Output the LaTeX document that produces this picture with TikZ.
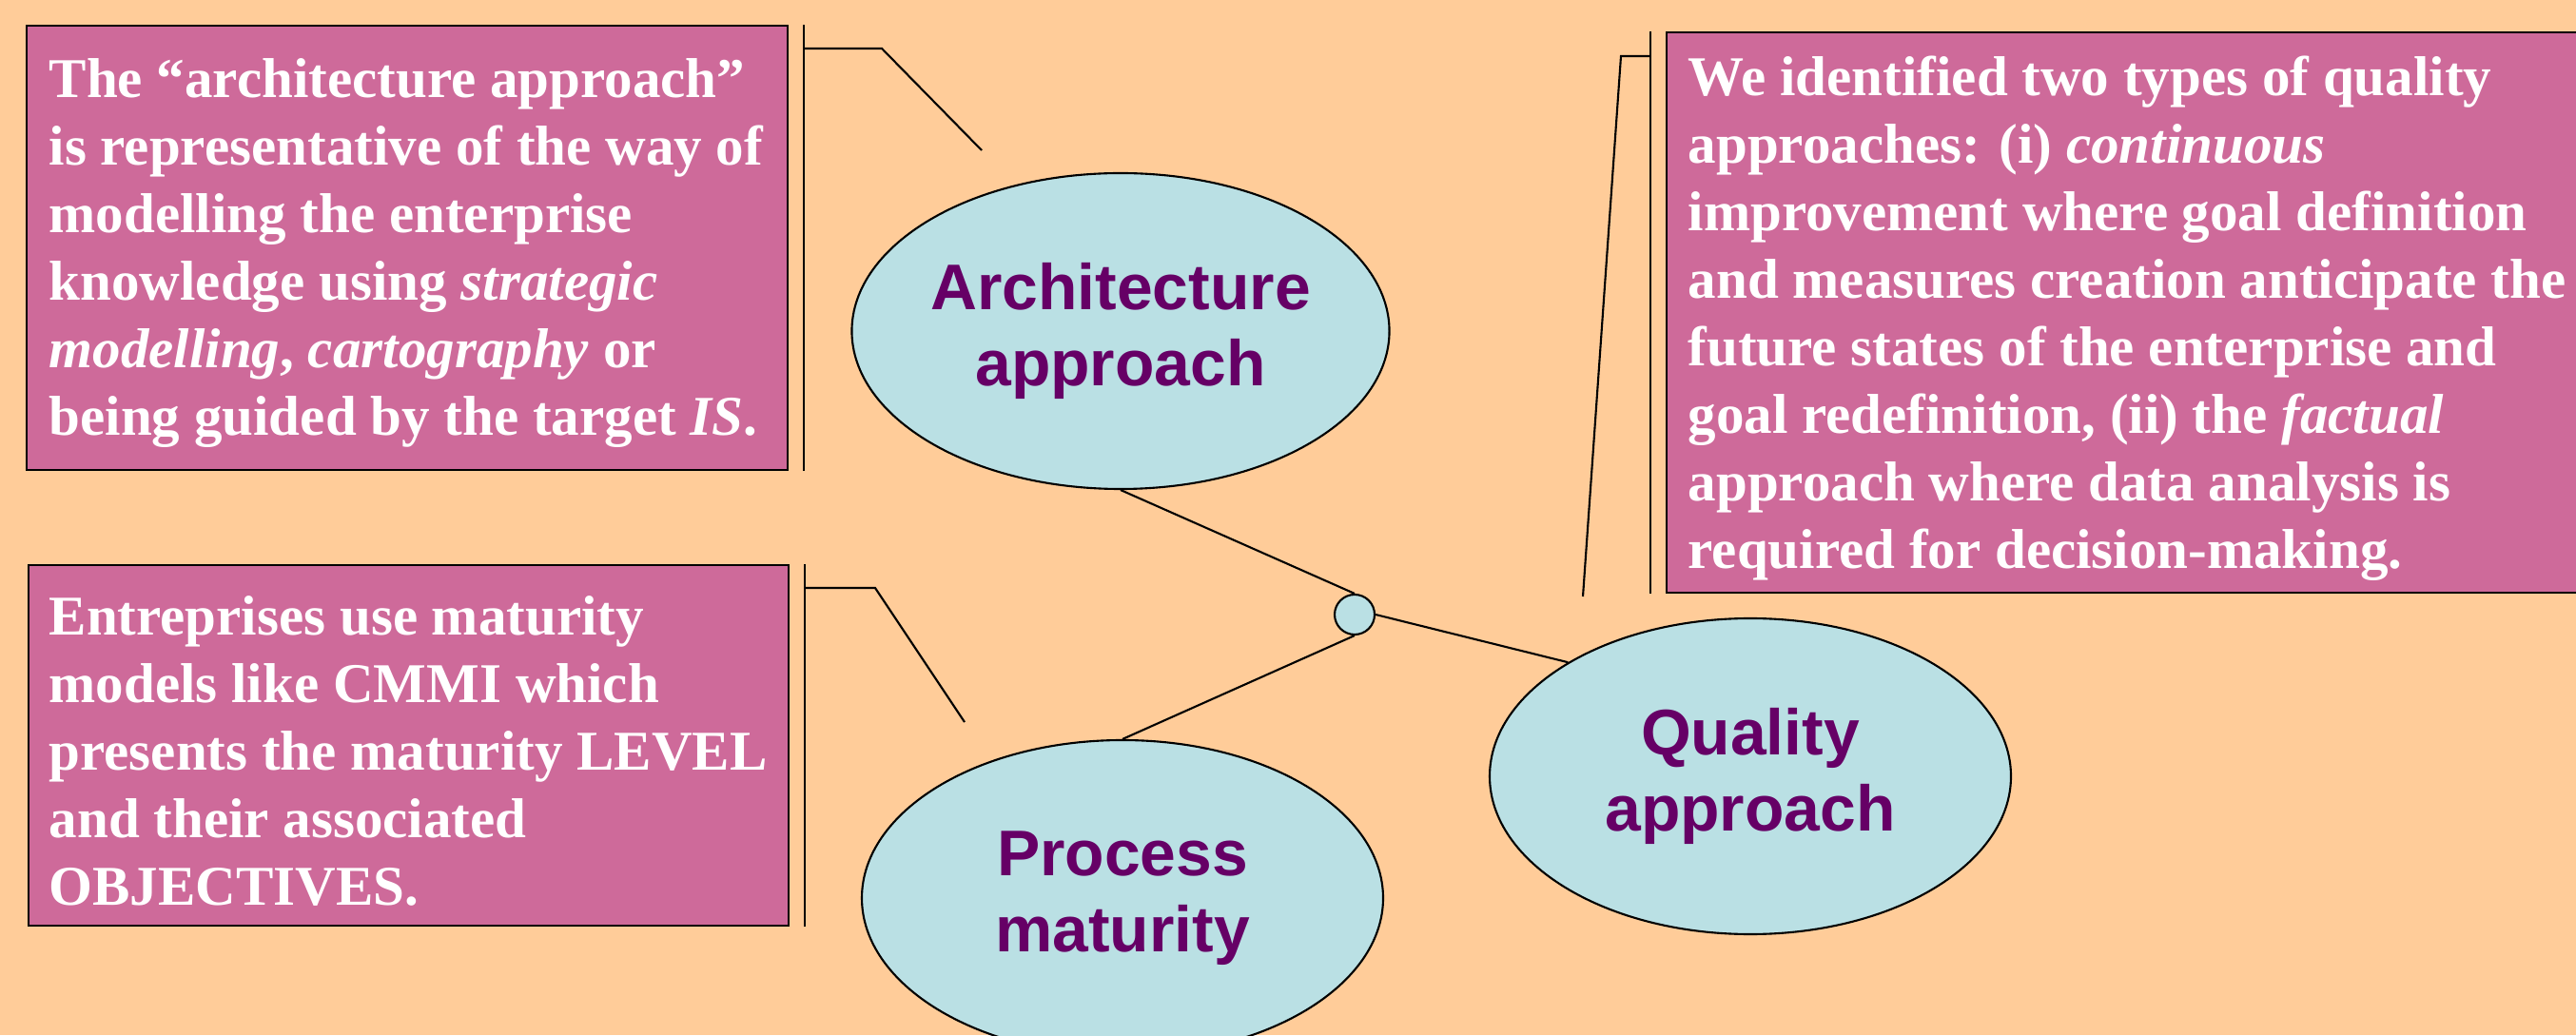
\documentclass[tikz,border=0pt]{standalone}
\usepackage{fontspec}
\setmainfont{Liberation Serif}
\setsansfont{Liberation Sans}
\usetikzlibrary{shapes.geometric}
\definecolor{peach}{RGB}{255,204,153}
\definecolor{rose}{RGB}{206,106,154}
\definecolor{paleblue}{RGB}{186,224,228}
\definecolor{plum}{RGB}{102,0,102}

\begin{document}
\begin{tikzpicture}
        \tikzstyle{note} = [rectangle, draw=black, fill=rose, line width=0.6pt, inner sep=0pt]
        \tikzstyle{notetext} = [anchor=west, align=left, inner sep=0pt, yshift=-0.06cm, text=white, font=\fontsize{16.8}{20.2}\selectfont\bfseries]
        \tikzstyle{topic} = [ellipse, draw=black, fill=paleblue, line width=0.6pt, minimum width=5.48cm, minimum height=3.32cm, inner sep=0pt, align=center, text=plum, font=\sffamily\bfseries\fontsize{19.3}{22.8}\selectfont]
        \tikzstyle{hub} = [circle, draw=black, fill=paleblue, line width=0.6pt, minimum size=0.42cm, inner sep=0pt]
        \tikzstyle{line} = [line width=0.6pt]

        \useasboundingbox (0,0) rectangle (27.08,10.88);
        \clip (0,0) rectangle (27.08,10.88);
        \fill[peach] (0,0) rectangle (27.08,10.88);

        \node(archnote) [note, minimum width=8cm, minimum height=4.67cm] at (4.28,8.275) {};
        \node(archtext) [notetext] at ([xshift=0.24cm]archnote.west) {The “architecture approach”\\
        is representative of the way of\\ modelling the enterprise\\
        knowledge using \textit{strategic}\\ \textit{modelling}, \textit{cartography} or\\
        being guided by the target \textit{IS}.};

        \node(procnote) [note, minimum width=7.99cm, minimum height=3.79cm] at (4.295,3.045) {};
        \node(proctext) [notetext] at ([xshift=0.22cm]procnote.west) {Entreprises use maturity\\
        models like CMMI which\\ presents the maturity LEVEL\\ and their associated\\
        OBJECTIVES.};

        \node(qualnote) [note, minimum width=10cm, minimum height=5.89cm] at (22.52,7.595) {};
        \node(qualtext) [notetext] at ([xshift=0.23cm]qualnote.west) {We identified two types of quality\\
        approaches: (i) \textit{continuous}\\ improvement where goal definition\\
        and measures creation anticipate the\\ future states of the enterprise and\\
        goal redefinition, (ii) the \textit{factual}\\ approach where data analysis is\\
        required for decision-making.};

        \node(arch) [topic] at (11.78,7.40) {Architecture\\ approach};
        \node(process) [topic] at (11.80,1.44) {Process\\ maturity};
        \node(quality) [topic] at (18.40,2.72) {Quality\\ approach};
        \node(hub) [hub] at (14.24,4.42) {};

        \draw[line] (arch.south) -- (hub.north);
        \draw[line] (hub.south) -- (process.north);
        \draw[line] (hub.east) -- (quality.148);

        \coordinate(archelbow) at (9.27,10.37);
        \coordinate(archtip) at (10.32,9.30);
        \draw[line] ([xshift=0.16cm]archnote.north east) coordinate(archbar) -- ([xshift=0.16cm]archnote.south east);
        \draw[line] (archbar |- archelbow) -- (archelbow) -- (archtip);

        \coordinate(procelbow) at (9.20,4.70);
        \coordinate(proctip) at (10.14,3.29);
        \draw[line] ([xshift=0.16cm]procnote.north east) coordinate(procbar) -- ([xshift=0.16cm]procnote.south east);
        \draw[line] (procbar |- procelbow) -- (procelbow) -- (proctip);

        \coordinate(qualelbow) at (17.04,10.29);
        \coordinate(qualtip) at (16.64,4.61);
        \draw[line] ([xshift=-0.16cm]qualnote.north west) coordinate(qualbar) -- ([xshift=-0.16cm]qualnote.south west);
        \draw[line] (qualbar |- qualelbow) -- (qualelbow) -- (qualtip);
    \end{tikzpicture}
\end{document}
